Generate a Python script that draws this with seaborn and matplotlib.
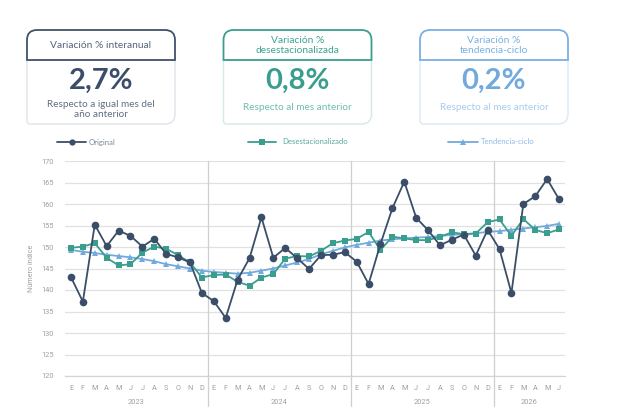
import numpy as np
import pandas as pd
import matplotlib
matplotlib.use("Agg")
import matplotlib.pyplot as plt
import seaborn as sns
from matplotlib.path import Path
from matplotlib.patches import PathPatch
from matplotlib.lines import Line2D
from matplotlib.transforms import IdentityTransform, blended_transform_factory

# ---------------- data ----------------
month_labels = ["E", "F", "M", "A", "M", "J", "J", "A", "S", "O", "N", "D"] * 3 + ["E", "F", "M", "A", "M", "J"]
years = ["2023", "2024", "2025", "2026"]
year_months = [12, 12, 12, 6]

original = [143.0, 137.3, 155.2, 150.2, 153.8, 152.6, 150.1, 151.9, 148.4, 147.6, 146.4, 139.3,
            137.4, 133.5, 142.4, 147.4, 156.9, 147.5, 149.8, 147.4, 144.9, 148.1, 148.2, 148.8,
            146.6, 141.4, 150.7, 159.0, 165.2, 156.8, 153.9, 150.4, 151.7, 152.9, 148.0, 154.0,
            149.5, 139.3, 160.0, 161.8, 165.8, 161.1]
desestacionalizado = [149.8, 150.1, 150.9, 147.5, 145.7, 146.0, 148.7, 150.1, 149.6, 148.1, 146.4, 142.9,
                      143.5, 143.6, 141.9, 141.0, 142.9, 143.7, 147.3, 147.9, 147.8, 149.1, 150.9, 151.5,
                      151.9, 153.5, 149.3, 152.4, 152.0, 151.6, 151.6, 152.4, 153.4, 153.0, 153.1, 155.8,
                      156.4, 152.6, 156.5, 154.0, 153.2, 154.1]
tendencia = [149.3, 148.9, 148.6, 148.2, 147.9, 147.6, 147.2, 146.7, 146.0, 145.5, 145.0, 144.5,
             144.2, 144.0, 143.8, 144.0, 144.5, 145.0, 145.7, 146.4, 147.2, 148.3, 149.1, 149.9,
             150.5, 151.0, 151.5, 151.8, 152.0, 152.2, 152.3, 152.6, 152.8, 153.0, 153.2, 153.5,
             153.7, 154.0, 154.3, 154.6, 154.9, 155.4]

box_titles = ["Variación % interanual", "Variación %\ndesestacionalizada", "Variación %\ntendencia-ciclo"]
box_values = ["2,7%", "0,8%", "0,2%"]
box_subtitles = ["Respecto a igual mes del\naño anterior", "Respecto al mes anterior", "Respecto al mes anterior"]
series_names = ["Original", "Desestacionalizado", "Tendencia-ciclo"]

# ---------------- style ----------------
C_ORIG = "#3b4e69"
C_DES = "#3a9e8f"
C_TEN = "#72aade"
GRID = "#e1e1e1"
TICK = "#a0a0a0"

sns.set_theme(style="white")
plt.rcParams['font.family'] = ['Lato', 'DejaVu Sans']

W, H = 619, 420
fig = plt.figure(figsize=(W / 100, H / 100), dpi=100)
fig.patch.set_facecolor("white")

ax = fig.add_axes([65 / W, (H - 376) / H, 500 / W, 215 / H])

n = len(original)
df = pd.DataFrame({
    "idx": np.arange(n),
    "Original": original,
    "Desestacionalizado": desestacionalizado,
    "Tendencia-ciclo": tendencia,
})

sns.lineplot(data=df, x="idx", y="Tendencia-ciclo", ax=ax, color=C_TEN, marker="^",
             markersize=5, linewidth=1.3, markeredgewidth=0, zorder=3)
sns.lineplot(data=df, x="idx", y="Desestacionalizado", ax=ax, color=C_DES, marker="s",
             markersize=5, linewidth=1.3, markeredgewidth=0, zorder=4)
sns.lineplot(data=df, x="idx", y="Original", ax=ax, color=C_ORIG, marker="o",
             markersize=5.5, linewidth=1.3, markeredgewidth=0, zorder=5)

ax.set_xlim(-0.5, n - 0.5)
ax.set_ylim(120, 170)
ax.set_yticks(np.arange(120, 171, 5))
ax.yaxis.grid(True, color=GRID, linewidth=0.9)
ax.set_axisbelow(True)
for s in ["top", "right", "left"]:
    ax.spines[s].set_visible(False)
ax.spines["bottom"].set_color("#d4d4d4")
ax.spines["bottom"].set_linewidth(0.9)

ax.set_xticks(np.arange(-0.5, n, 1.0))
ax.set_xticklabels([])
ax.tick_params(axis="x", which="major", length=4, color="#cfcfcf", width=0.8, direction="out")
ax.set_xticks(np.arange(n), minor=True)
ax.set_xticklabels(month_labels, minor=True)
ax.tick_params(axis="x", which="minor", length=0, pad=6.5, labelsize=5.3, labelcolor=TICK)
ax.tick_params(axis="y", length=0, pad=8, labelsize=5.3, labelcolor=TICK)
for lab in ax.get_xticklabels(minor=True) + ax.get_yticklabels():
    lab.set_family(['Roboto', 'DejaVu Sans'])

ax.set_xlabel("")
ax.set_ylabel("Número índice", fontsize=5.2, color=TICK, family=['Roboto', 'DejaVu Sans'])
ax.yaxis.set_label_coords((35 - 65) / 500, 0.5)

trans = blended_transform_factory(ax.transData, ax.transAxes)
start = 0
for y, m in zip(years, year_months):
    center = start + (m - 1) / 2
    ax.text(center, (376 - 402) / 215, y, transform=trans, ha="center", va="center",
            fontsize=5.3, color=TICK, family=['Roboto', 'DejaVu Sans'])
    start += m
    if start < n:
        ax.add_line(Line2D([start - 0.5, start - 0.5], [1.0, (376 - 406) / 215], transform=trans,
                           color="#cfcfcf", linewidth=0.9, clip_on=False, zorder=1))

# ---------------- boxes ----------------
def rpath(x0, y0, x1, y1, r_tl, r_tr, r_br, r_bl):
    # image coords (y down) -> display coords (y up)
    Y = lambda v: H - v
    verts = [(x0 + r_bl, Y(y1)), (x1 - r_br, Y(y1)), (x1, Y(y1)), (x1, Y(y1 - r_br)),
             (x1, Y(y0 + r_tr)), (x1, Y(y0)), (x1 - r_tr, Y(y0)),
             (x0 + r_tl, Y(y0)), (x0, Y(y0)), (x0, Y(y0 + r_tl)),
             (x0, Y(y1 - r_bl)), (x0, Y(y1)), (x0 + r_bl, Y(y1)), (0, 0)]
    codes = [Path.MOVETO, Path.LINETO, Path.CURVE3, Path.CURVE3,
             Path.LINETO, Path.CURVE3, Path.CURVE3,
             Path.LINETO, Path.CURVE3, Path.CURVE3,
             Path.LINETO, Path.CURVE3, Path.CURVE3, Path.CLOSEPOLY]
    return Path(verts, codes)

box_x = [27, 223.5, 420]
box_w = 148
head_col = ["#3f526b", "#3a9e8f", "#7ab0e3"]
title_col = ["#55647a", "#3fa393", "#7ab0e3"]
value_col = ["#3b4e69", "#3a9e8f", "#72aade"]
sub_col = ["#627083", "#6dbfae", "#a8cbee"]
body_col = ["#dfe3e9", "#d3ebe6", "#dbe9f7"]

for i in range(3):
    x0 = box_x[i]
    x1 = x0 + box_w
    body = PathPatch(rpath(x0, 60, x1, 124, 0, 0, 10, 3), transform=IdentityTransform(),
                     facecolor="white", edgecolor=body_col[i], linewidth=1.0)
    fig.add_artist(body)
    head = PathPatch(rpath(x0, 30, x1, 60, 10, 10, 0, 0), transform=IdentityTransform(),
                     facecolor="white", edgecolor=head_col[i], linewidth=1.3)
    fig.add_artist(head)
    cx = (x0 + x1) / 2
    fig.text(cx / W, 1 - 45.5 / H, box_titles[i], ha="center", va="center", fontsize=7.4,
             color=title_col[i], linespacing=1.05)
    fig.text(cx / W, 1 - 81 / H, box_values[i], ha="center", va="center", fontsize=21,
             fontweight="bold", color=value_col[i])
    sub_y = 109.5 if "\n" in box_subtitles[i] else 108
    fig.text(cx / W, 1 - sub_y / H, box_subtitles[i], ha="center", va="center", fontsize=7.2,
             color=sub_col[i], linespacing=1.12)

# ---------------- legend ----------------
leg_x = [(57, 86, 89), (248, 276, 282), (448, 478, 481)]
leg_marker = ["o", "s", "^"]
leg_col = [C_ORIG, C_DES, C_TEN]
leg_txt_col = ["#7b8796", "#5aa89c", "#8dbbe6"]
for i in range(3):
    a, b, t = leg_x[i]
    yy = H - 142
    fig.add_artist(Line2D([a, b], [yy, yy], transform=IdentityTransform(), color=leg_col[i],
                          linewidth=1.3))
    fig.add_artist(Line2D([(a + b) / 2], [yy], transform=IdentityTransform(), color=leg_col[i],
                          marker=leg_marker[i], markersize=4.5, markeredgewidth=0, linestyle="none"))
    fig.text(t / W, yy / H, series_names[i], ha="left", va="center", fontsize=5.6,
             color=leg_txt_col[i])

fig.savefig("out.png", dpi=100, facecolor="white")
